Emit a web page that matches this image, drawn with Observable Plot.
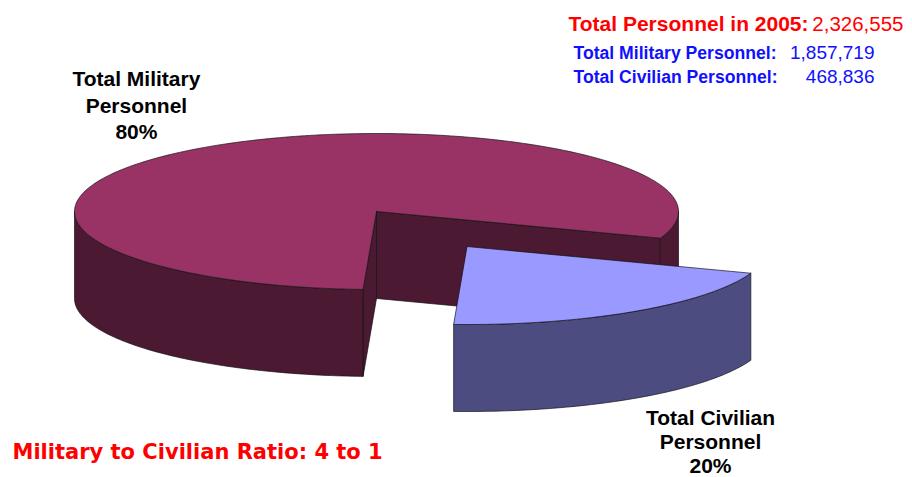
<!DOCTYPE html>
<html><head><meta charset="utf-8">
<script src="https://cdn.jsdelivr.net/npm/d3@7"></script>
<script src="https://cdn.jsdelivr.net/npm/@observablehq/plot@0.6"></script>
<style>
body{margin:0;background:#fff}
#chart{width:912px;height:477px;position:relative}
</style>
</head><body><div id="chart"></div>
<script>
// ---- data ----
const categories = ["Total Military Personnel", "Total Civilian Personnel"];
const values = [1857719, 468836];
const sliceLabels = ["Total Military\nPersonnel\n80%", "Total Civilian\nPersonnel\n20%"];
const totalLabel = "Total Personnel in 2005:";
const totalValue = "2,326,555";
const detailLabels = ["Total Military Personnel:", "Total Civilian Personnel:"];
const detailValues = ["1,857,719", "468,836"];
const ratioText = ["Military to Civilian Ratio: 4 to 1"];

// ---- styles ----
const topColors = ["#993366", "#9999ff"];
const sideColors = ["#4c1933", "#4c4c80"];

// ---- 3D pie geometry (unit ellipse coordinates) ----
const deg = Math.PI / 180;
const civStart = 20 * deg;
const total = d3.sum(values);
const civSpan = values[1] / total * 2 * Math.PI;
const explodeBy = [0, 0.54];
const depth = 1.115; // side height, in units of the vertical radius
const slices = [
  {i: 0, a0: civStart + civSpan, a1: civStart + 2 * Math.PI},
  {i: 1, a0: civStart, a1: civStart + civSpan}
].map(s => {
  const mid = (s.a0 + s.a1) / 2;
  return {...s, ox: explodeBy[s.i] * Math.cos(mid), oy: explodeBy[s.i] * Math.sin(mid)};
});

function arc(s, a0, a1, drop) {
  const n = Math.max(2, Math.ceil((a1 - a0) / deg));
  return d3.range(n + 1).map(k => {
    const a = a0 + (a1 - a0) * k / n;
    return {x: s.ox + Math.cos(a), y: s.oy + Math.sin(a) + drop};
  });
}
function pt(s, a, r, drop) {
  return {x: s.ox + r * Math.cos(a), y: s.oy + r * Math.sin(a) + drop};
}

const faces = [];
function addFace(pts, fill) {
  faces.push({pts: [...pts, pts[0]], fill});
}
slices.forEach(s => {
  const top = topColors[s.i], side = sideColors[s.i];
  if (s.i === 0) {
    // radial cut faces of the main slice, visible in the gap
    for (const a of [s.a0, s.a1]) {
      addFace([pt(s, a, 0, 0), pt(s, a, 1, 0), pt(s, a, 1, depth), pt(s, a, 0, depth)], side);
    }
  }
  // outer wall: only the front half (sin > 0) is visible
  for (const k of [0, 2 * Math.PI]) {
    const lo = Math.max(s.a0, k), hi = Math.min(s.a1, k + Math.PI);
    if (lo < hi) {
      addFace([...arc(s, lo, hi, 0), ...arc(s, lo, hi, depth).reverse()], side);
    }
  }
  // top face
  addFace([pt(s, 0, 0, 0), ...arc(s, s.a0, s.a1, 0)], top);
});

const faceMarks = faces.map(f => Plot.line(f.pts, {
  x: "x", y: "y", fill: f.fill, stroke: "#111", strokeWidth: 0.8, strokeOpacity: 0.85, curve: "linear"
}));

const textAt = (txt, dx, dy, opts) => Plot.text([txt], {
  frameAnchor: "top-left", dx, dy, text: d => d, lineAnchor: "bottom", ...opts
});

const plot = Plot.plot({
  width: 912,
  height: 477,
  margin: 0,
  style: {background: "#fff", fontFamily: "'Liberation Sans', Arial, sans-serif"},
  x: {domain: [-1, 1], range: [74, 678], axis: null},
  y: {domain: [-1, 1], range: [133, 289], axis: null},
  marks: [
    ...faceMarks,
    // slice labels
    Plot.text([sliceLabels[0]], {x: () => -0.795, y: () => -1.845, text: d => d, lineAnchor: "top",
      textAnchor: "middle", fontSize: 21, fontWeight: "bold", lineHeight: 1.26, fill: "#000"}),
    Plot.text([sliceLabels[1]], {x: () => 1.106, y: () => 2.52, text: d => d, lineAnchor: "top",
      textAnchor: "middle", fontSize: 21, fontWeight: "bold", lineHeight: 1.14, fill: "#000"}),
    // header lines
    textAt(totalLabel, 568, 30, {textAnchor: "start", fontSize: 21, fontWeight: "bold", fill: "#ff0000"}),
    textAt(totalValue, 903, 30, {textAnchor: "end", fontSize: 20.5, fill: "#ff0000"}),
    textAt(detailLabels[0], 573, 58, {textAnchor: "start", fontSize: 17.6, fontWeight: "bold", fill: "#1010ff"}),
    textAt(detailValues[0], 874, 58, {textAnchor: "end", fontSize: 19, fill: "#1010ff"}),
    textAt(detailLabels[1], 573, 82, {textAnchor: "start", fontSize: 17.6, fontWeight: "bold", fill: "#1010ff"}),
    textAt(detailValues[1], 874, 82, {textAnchor: "end", fontSize: 19, fill: "#1010ff"}),
    // ratio note
    textAt(ratioText[0], 12, 458, {textAnchor: "start", fontSize: 21, fontWeight: "bold", fill: "#ff0000",
      fontFamily: "'DejaVu Sans', Verdana, sans-serif"})
  ]
});
document.getElementById("chart").append(plot);
</script>
</body></html>
